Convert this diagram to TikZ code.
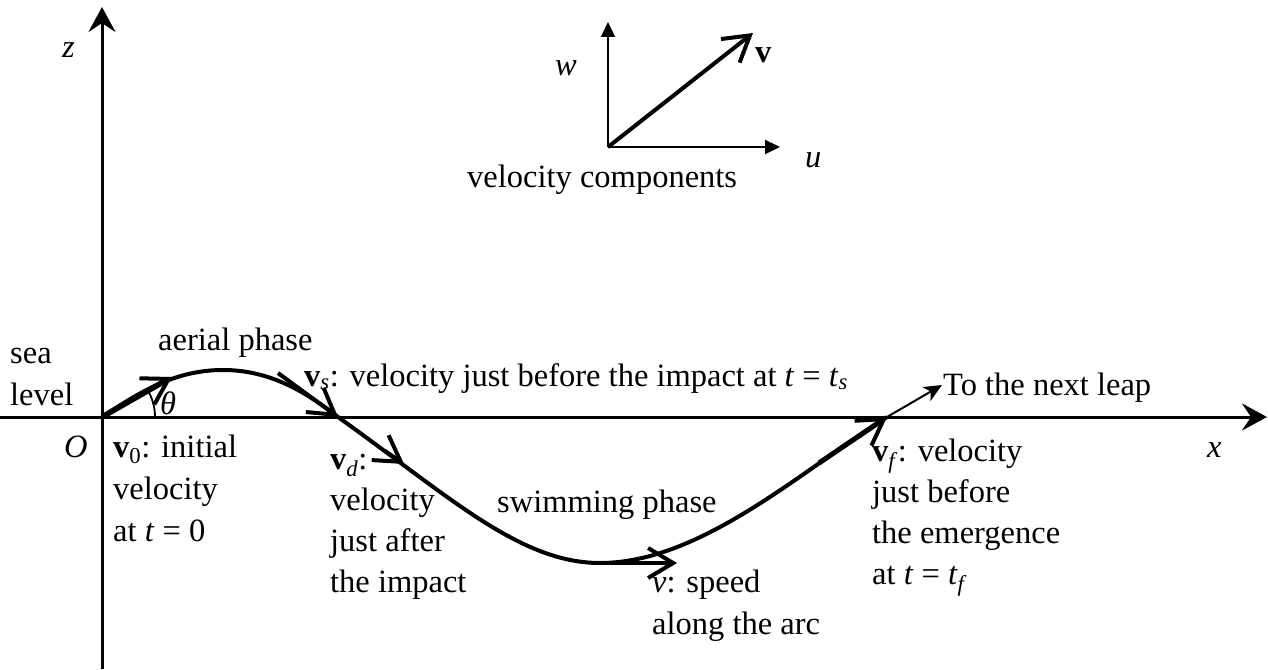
\documentclass[tikz,border=0pt]{standalone}
\usepackage{fontspec}
\setmainfont{Liberation Serif}
\usetikzlibrary{arrows.meta}
\begin{document}
\begin{tikzpicture}[x=1pt,y=-1pt,
  lbl/.style={anchor=base west, inner sep=0pt, font=\fontsize{32.5}{40}\selectfont},
  axisline/.style={line width=3pt, -{Stealth[length=25pt,width=27pt,inset=9pt]}},
  smallaxis/.style={line width=2pt, -{Triangle[length=15pt,width=14pt]}},
  trajectory/.style={line width=4pt},
  barbarrow/.style={line width=4pt, -{Straight Barb[length=25pt,width=30pt,line width'=4pt]}},
  thinarrow/.style={line width=2pt, -{Stealth[length=18pt,width=16pt,inset=5pt]}}]
\useasboundingbox (0,0) rectangle (1268,669);
% coordinates
\coordinate (O) at (102,417);
\coordinate (zBot) at (102,669);
\coordinate (zTop) at (102,7);
\coordinate (xL) at (0,417);
\coordinate (xR) at (1267,417);
\coordinate (P) at (223,370);
\coordinate (S) at (338,417);
\coordinate (B) at (600,563);
\coordinate (F) at (887,417);
\coordinate (v0tip) at (172,377);
\coordinate (vsStart) at (278,373);
\coordinate (vdStart) at (385,451);
\coordinate (vdTip) at (404,464);
\coordinate (vTip) at (677,563);
\coordinate (vfStart) at (819,463);
\coordinate (next) at (942,385);
\coordinate (C0) at (608,147);
\coordinate (Cw) at (608,22);
\coordinate (Cu) at (780,147);
\coordinate (Cv) at (753,33);
% axes
\draw[axisline] (zBot) -- (zTop);
\draw[axisline] (xL) -- (xR);
% trajectory
\draw[trajectory] (O) .. controls (140,392) and (175,370) .. (P)
  .. controls (270,370) and (306,392) .. (S)
  .. controls (450,497) and (520,563) .. (B)
  .. controls (700,563) and (800,472) .. (F);
% velocity arrows
\draw[barbarrow, line width=5.5pt] (O) -- (v0tip);
\draw[barbarrow] (vsStart) -- (S);
\draw[barbarrow] (vdStart) -- (vdTip);
\draw[barbarrow] (B) -- (vTip);
\draw[barbarrow, line width=5pt] (vfStart) -- (F);
\draw[thinarrow] (F) -- (next);
% angle
\draw[line width=1.8pt] (O) ++(53,0) arc[start angle=0, end angle=-30, radius=53];
% velocity components
\draw[smallaxis] (C0) -- (Cw);
\draw[smallaxis] (C0) -- (Cu);
\draw[barbarrow] (C0) -- (Cv);
% labels
\node[lbl] (lz) at (62,57) {\textit{z}};
\node[lbl] (lx) at (1207,457) {\textit{x}};
\node[lbl] (lO) at (64,457) {\textit{O}};
\node[lbl] (lsea) at (10,363) {sea};
\node[lbl] (llevel) at (10,405) {level};
\node[lbl] (laerial) at (158,350) {aerial phase};
\node[lbl] (ltheta) at (160,414) {\textit{θ}};
\node[lbl] (lvs) at (304,386) {\textbf{v}\textsubscript{\textit{s}}: velocity just before the impact at \textit{t} = \textit{t}\textsubscript{\textit{s}}};
\node[lbl] (lnext) at (943,395) {To the next leap};
\node[lbl] (lv0a) at (113,457) {\textbf{v}\textsubscript{0}: initial};
\node[lbl] (lv0b) at (113,499) {velocity};
\node[lbl] (lv0c) at (113,541) {at \textit{t} = 0};
\node[lbl] (lvda) at (330,469) {\textbf{v}\textsubscript{\textit{d}}:};
\node[lbl] (lvdb) at (330,510) {velocity};
\node[lbl] (lvdc) at (330,551) {just after};
\node[lbl] (lvdd) at (330,592) {the impact};
\node[lbl] (lswim) at (497,512) {swimming phase};
\node[lbl] (lva) at (652,592) {\textit{v}: speed};
\node[lbl] (lvb) at (652,634) {along the arc};
\node[lbl] (lvfa) at (872,461) {\textbf{v}\textsubscript{\textit{f}}: velocity};
\node[lbl] (lvfb) at (872,502) {just before};
\node[lbl] (lvfc) at (872,543) {the emergence};
\node[lbl] (lvfd) at (872,584) {at \textit{t} = \textit{t}\textsubscript{\textit{f}}};
\node[lbl] (lw) at (555,75) {\textit{w}};
\node[lbl] (lu) at (805,167) {\textit{u}};
\node[lbl] (lvv) at (755,63) {\textbf{v}};
\node[lbl] (lcomp) at (467,187) {velocity components};
\end{tikzpicture}
\end{document}
